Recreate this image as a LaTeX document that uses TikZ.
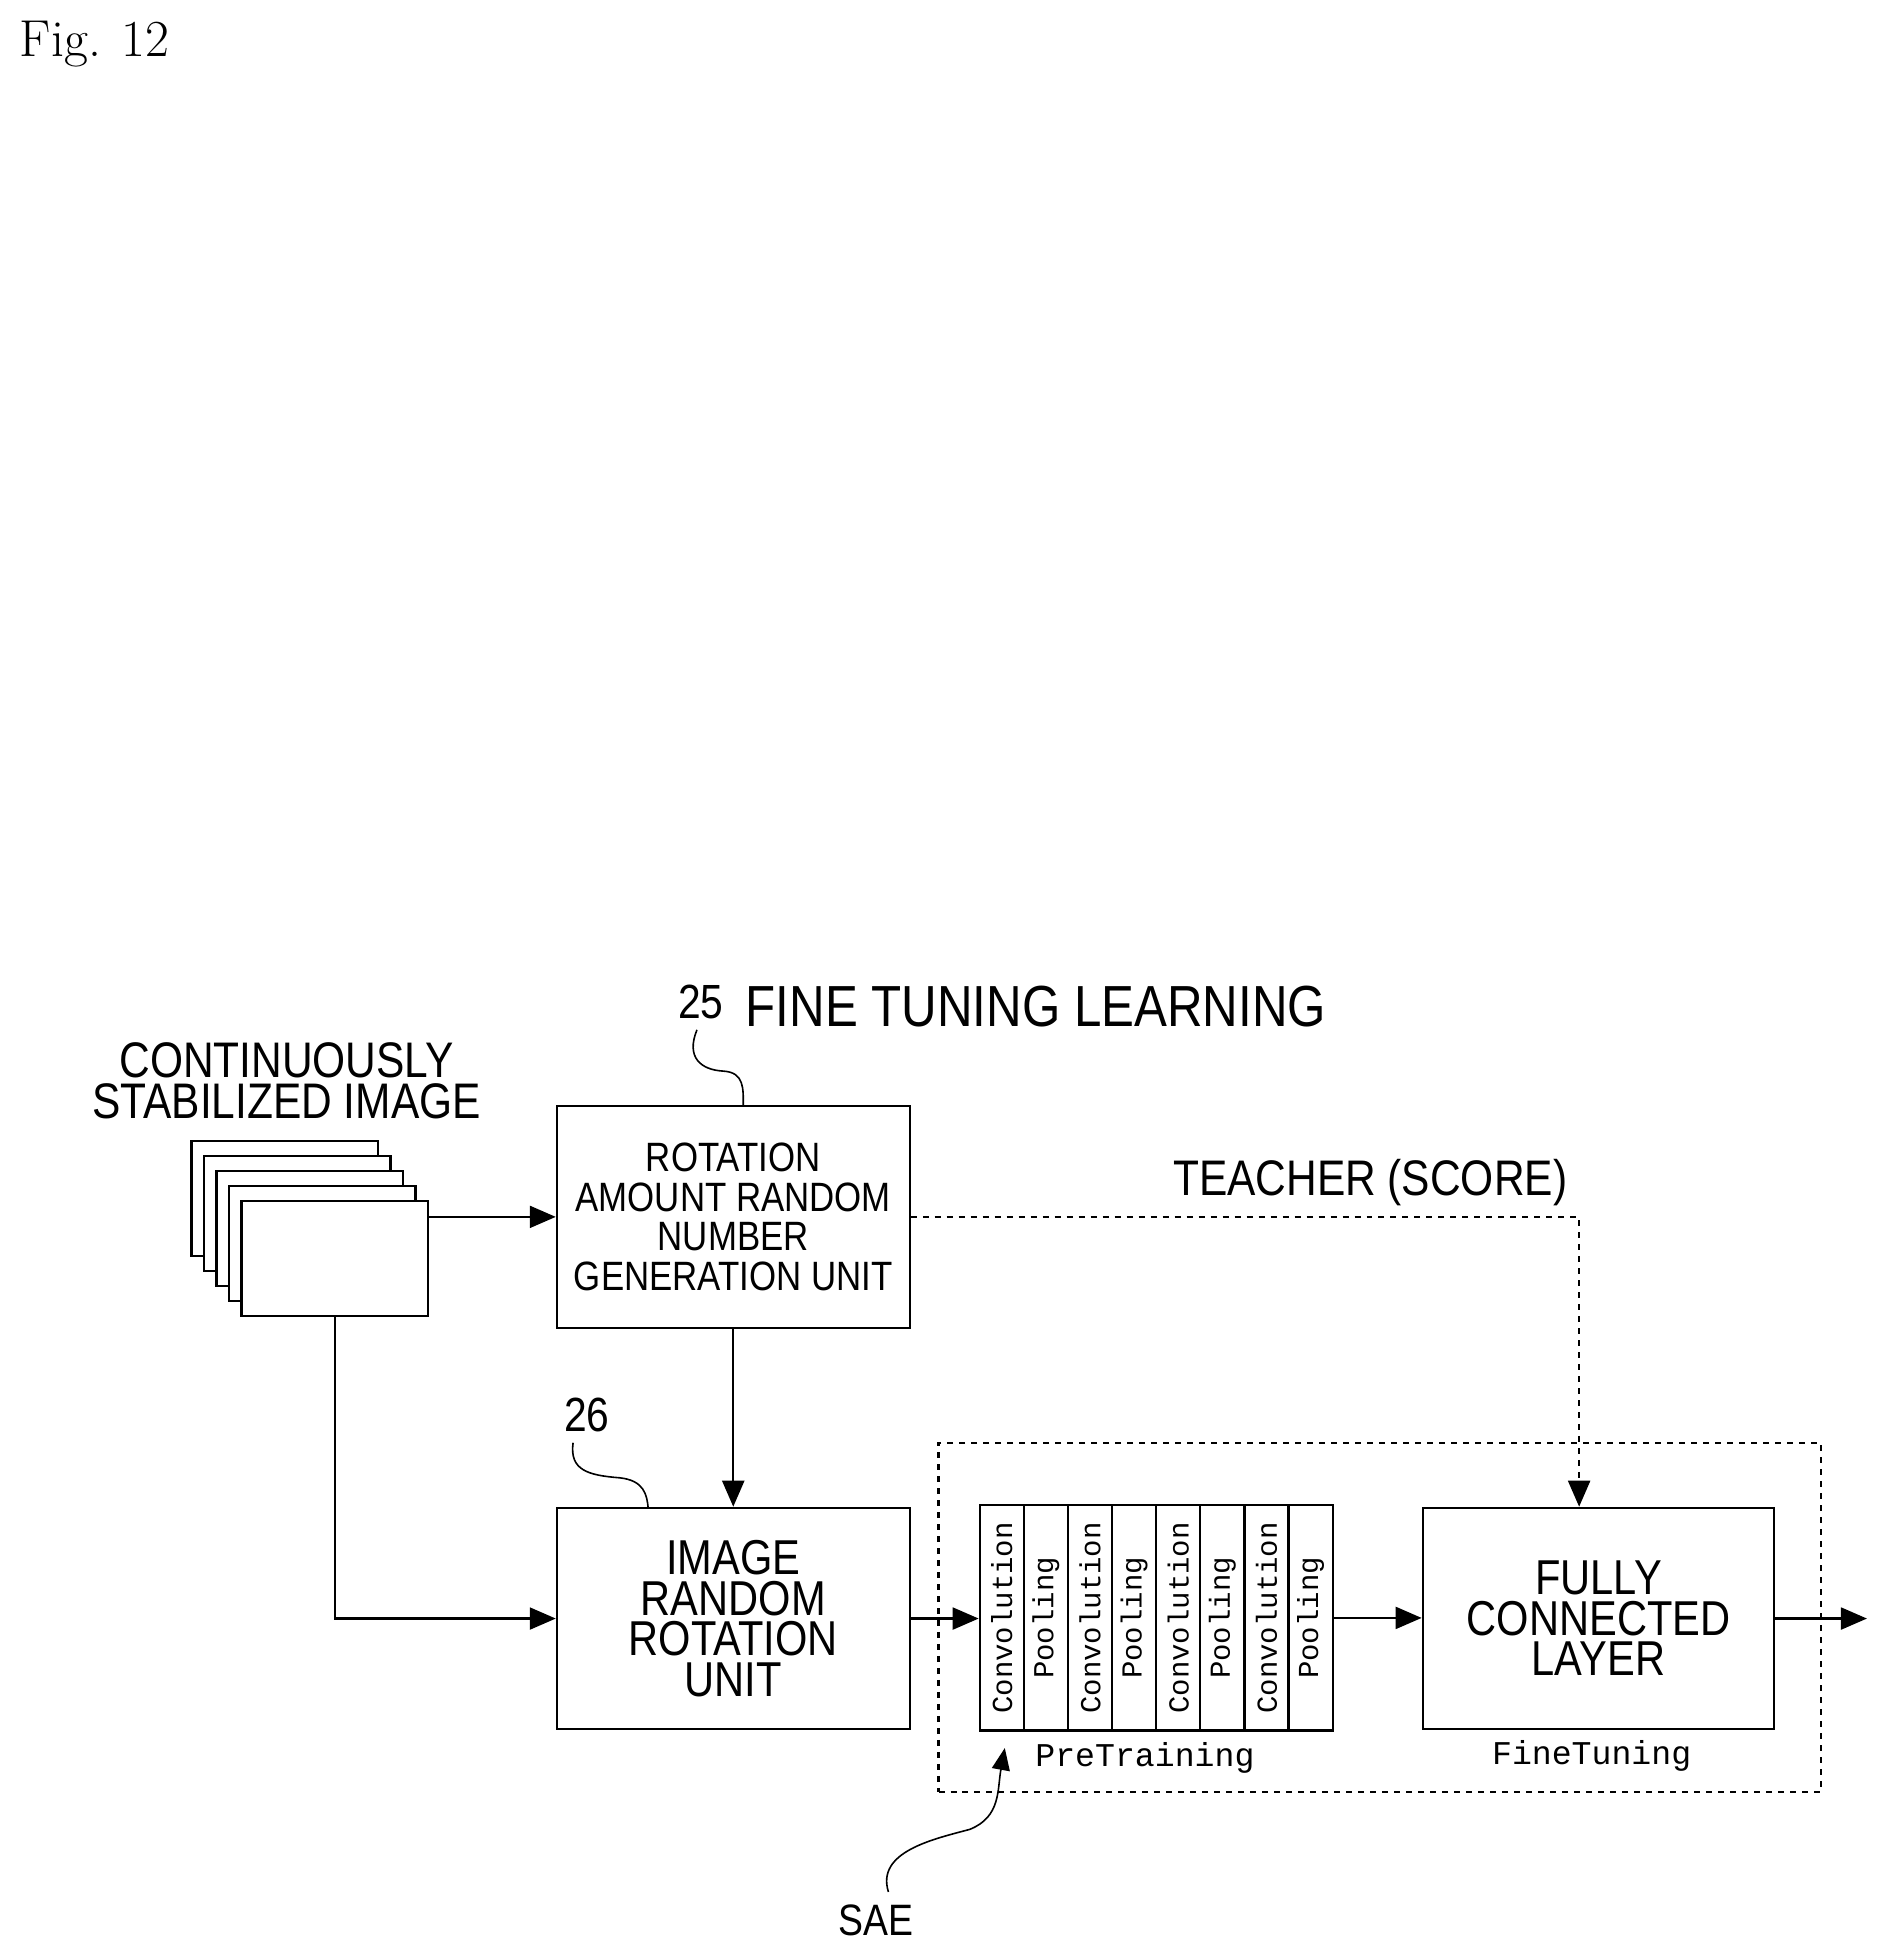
\documentclass[tikz,border=0pt]{standalone}
\usepackage{fontspec}
\setsansfont{Liberation Sans}[FakeStretch=0.85]
\setmonofont{Liberation Mono}
\usetikzlibrary{arrows.meta}
\begin{document}
\begin{tikzpicture}[x=0.626pt,y=-0.626pt,
  line width=1.1pt,
  box/.style={draw,fill=white,inner sep=0pt,align=center,font=\sffamily},
  col/.style={draw,inner sep=0pt,minimum width=22.07pt,minimum height=112.7pt,font=\ttfamily\fontsize{14.5}{14.5}\selectfont},
  arr/.style={-{Triangle[length=13pt,width=11pt]}},
  lbl/.style={font=\sffamily\fontsize{25}{20.5}\selectfont,align=center,inner sep=0pt}]
\useasboundingbox (0,0) rectangle (1500,1560);
\node[anchor=base west,inner sep=0pt,font=\fontsize{26}{26}\selectfont] (fig) at (15,45) {Fig. 12};
% heading
\node[anchor=base west,inner sep=0pt,font=\sffamily\fontsize{29}{29}\selectfont] (head) at (595,820) {FINE TUNING LEARNING};
\node[anchor=base,inner sep=0pt,font=\sffamily\fontsize{24}{24}\selectfont] (n25) at (560,814) {25};
\node[anchor=base,inner sep=0pt,font=\sffamily\fontsize{24}{24}\selectfont] (n26) at (469,1144) {26};
\node[lbl] (cont) at (229,864) {CONTINUOUSLY\\STABILIZED IMAGE};
% image stack
\foreach \i in {4,3,2,1} {
  \node[draw,fill=white,inner sep=0pt,minimum width=93.3pt,minimum height=57.6pt] (s\i) at ({267.5-10*\i},{1006-12*\i}) {};
}
\node[draw,fill=white,inner sep=0pt,minimum width=93.3pt,minimum height=57.6pt] (stack) at (267.5,1006) {};
% boxes
\node[box,minimum width=176.5pt,minimum height=110.8pt,font=\sffamily\fontsize{20.5}{19.7}\selectfont] (rot) at (586,972.5) {ROTATION\\AMOUNT RANDOM\\NUMBER\\GENERATION UNIT};
\node[box,minimum width=176.5pt,minimum height=110.8pt,font=\sffamily\fontsize{24.5}{20.3}\selectfont] (img) at (586,1293.5) {IMAGE\\RANDOM\\ROTATION\\UNIT};
\node[box,minimum width=175.9pt,minimum height=110.8pt,font=\sffamily\fontsize{24.5}{20.3}\selectfont] (fc) at (1277.5,1293.5) {FULLY\\CONNECTED\\LAYER};
% conv columns
\foreach \i/\t in {1/Convolution,2/Pooling,3/Convolution,4/Pooling,5/Convolution,6/Pooling,7/Convolution,8/Pooling} {
  \node[col] (c\i) at ({783+35.25*(\i-0.5)},1293) {\rotatebox{90}{\t}};
}
\node[draw,dashed,inner sep=0pt,minimum width=441.3pt,minimum height=174.7pt] (outer) at (1102.5,1292.5) {};
\node[inner sep=0pt,font=\ttfamily\fontsize{16.6}{16.6}\selectfont] (pre) at (915,1405) {PreTraining};
\node[inner sep=0pt,font=\ttfamily\fontsize{16.6}{16.6}\selectfont] (fine) at (1272,1403) {FineTuning};
\node[lbl] (teach) at (1095,945) {TEACHER (SCORE)};
\node[lbl,font=\sffamily\fontsize{22}{22}\selectfont] (sae) at (700,1535) {SAE};
\coordinate (out) at (1492,1293.5);
% connectors
\draw[arr] (stack.east |- rot.west) -- (rot.west);
\draw[arr] (rot.south) -- (img.north);
\draw[arr] (stack.south) |- (img.west);
\draw[arr] (img.east) -- (c1.west |- img.east);
\draw[arr] (c8.east) -- (fc.west |- c8.east);
\draw[arr] (fc.east) -- (out);
\draw[arr,dashed] (rot.east) -| (fc.north -| 1262,0);
% leaders
\draw[line width=0.8pt] (557,823) .. controls (548,845) and (560,855) .. (578,856) .. controls (595,857) and (594,870) .. (594,884);
\draw[line width=0.8pt] (458,1153) .. controls (455,1175) and (470,1179) .. (495,1181) .. controls (515,1183) and (517,1195) .. (518,1205);
\draw[line width=0.8pt,-{Triangle[length=11pt,width=9pt]}] (710,1512) .. controls (700,1480) and (745,1470) .. (775,1462) .. controls (800,1452) and (797,1430) .. (803,1397);
\end{tikzpicture}
\end{document}
